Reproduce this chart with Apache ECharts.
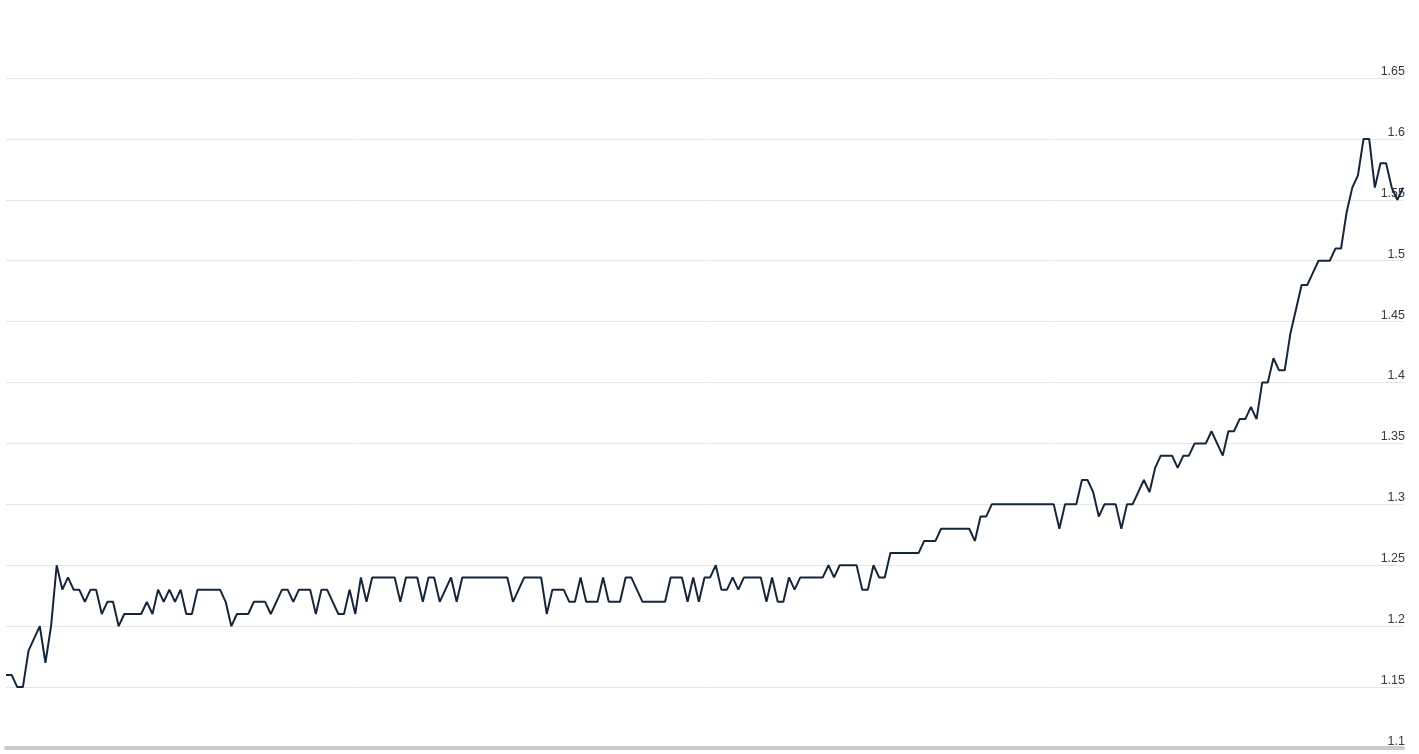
<!DOCTYPE html>
<html>
<head>
<meta charset="utf-8">
<script src="https://cdn.jsdelivr.net/npm/echarts@6/dist/echarts.min.js"></script>
<style>
html,body{margin:0;padding:0;background:#fff;}
#chart{width:1419px;height:754px;}
</style>
</head>
<body>
<div id="chart"></div>
<script>
var values = [
1.16,1.16,1.15,1.15,1.18,1.19,1.20,1.17,1.20,1.25,
1.23,1.24,1.23,1.23,1.22,1.23,1.23,1.21,1.22,1.22,
1.20,1.21,1.21,1.21,1.21,1.22,1.21,1.23,1.22,1.23,
1.22,1.23,1.21,1.21,1.23,1.23,1.23,1.23,1.23,1.22,
1.20,1.21,1.21,1.21,1.22,1.22,1.22,1.21,1.22,1.23,
1.23,1.22,1.23,1.23,1.23,1.21,1.23,1.23,1.22,1.21,
1.21,1.23,1.21,1.24,1.22,1.24,1.24,1.24,1.24,1.24,
1.22,1.24,1.24,1.24,1.22,1.24,1.24,1.22,1.23,1.24,
1.22,1.24,1.24,1.24,1.24,1.24,1.24,1.24,1.24,1.24,
1.22,1.23,1.24,1.24,1.24,1.24,1.21,1.23,1.23,1.23,
1.22,1.22,1.24,1.22,1.22,1.22,1.24,1.22,1.22,1.22,
1.24,1.24,1.23,1.22,1.22,1.22,1.22,1.22,1.24,1.24,
1.24,1.22,1.24,1.22,1.24,1.24,1.25,1.23,1.23,1.24,
1.23,1.24,1.24,1.24,1.24,1.22,1.24,1.22,1.22,1.24,
1.23,1.24,1.24,1.24,1.24,1.24,1.25,1.24,1.25,1.25,
1.25,1.25,1.23,1.23,1.25,1.24,1.24,1.26,1.26,1.26,
1.26,1.26,1.26,1.27,1.27,1.27,1.28,1.28,1.28,1.28,
1.28,1.28,1.27,1.29,1.29,1.30,1.30,1.30,1.30,1.30,
1.30,1.30,1.30,1.30,1.30,1.30,1.30,1.28,1.30,1.30,
1.30,1.32,1.32,1.31,1.29,1.30,1.30,1.30,1.28,1.30,
1.30,1.31,1.32,1.31,1.33,1.34,1.34,1.34,1.33,1.34,
1.34,1.35,1.35,1.35,1.36,1.35,1.34,1.36,1.36,1.37,
1.37,1.38,1.37,1.40,1.40,1.42,1.41,1.41,1.44,1.46,
1.48,1.48,1.49,1.50,1.50,1.50,1.51,1.51,1.54,1.56,
1.57,1.60,1.60,1.56,1.58,1.58,1.56,1.55,1.56
];
var categories = values.map(function(v, i){ return String(i + 1); });
var yTicks = ['1.1','1.15','1.2','1.25','1.3','1.35','1.4','1.45','1.5','1.55','1.6','1.65'];

var chart = echarts.init(document.getElementById('chart'), null, {renderer:'canvas'});
chart.setOption({
  animation: false,
  backgroundColor: '#ffffff',
  grid: {left: 6, right: 16, top: 78, bottom: 6, containLabel: false},
  xAxis: {
    type: 'category',
    data: categories,
    boundaryGap: false,
    axisLine: {show: true, lineStyle: {color: '#cccccc', width: 4}},
    axisTick: {show: false},
    axisLabel: {show: false},
    splitLine: {show: false}
  },
  yAxis: {
    type: 'value',
    position: 'right',
    min: 1.1,
    max: 1.65,
    interval: 0.05,
    axisLine: {show: false},
    axisTick: {show: false},
    axisLabel: {
      inside: true,
      margin: -2,
      align: 'right',
      verticalAlign: 'bottom',
      padding: [0, 0, 0, 0],
      color: '#3a3a3a',
      fontFamily: 'Liberation Sans, Arial, sans-serif',
      fontSize: 12.5,
      formatter: function(v){
        var s = String(Math.round(v * 100) / 100);
        return yTicks.indexOf(s) >= 0 ? s : '';
      }
    },
    splitLine: {show: true, lineStyle: {color: '#e6e6e6', width: 1}}
  },
  series: [{
    type: 'line',
    data: values,
    showSymbol: false,
    symbol: 'none',
    smooth: false,
    lineStyle: {color: '#15263a', width: 2},
    z: 3
  }]
});
</script>
</body>
</html>
